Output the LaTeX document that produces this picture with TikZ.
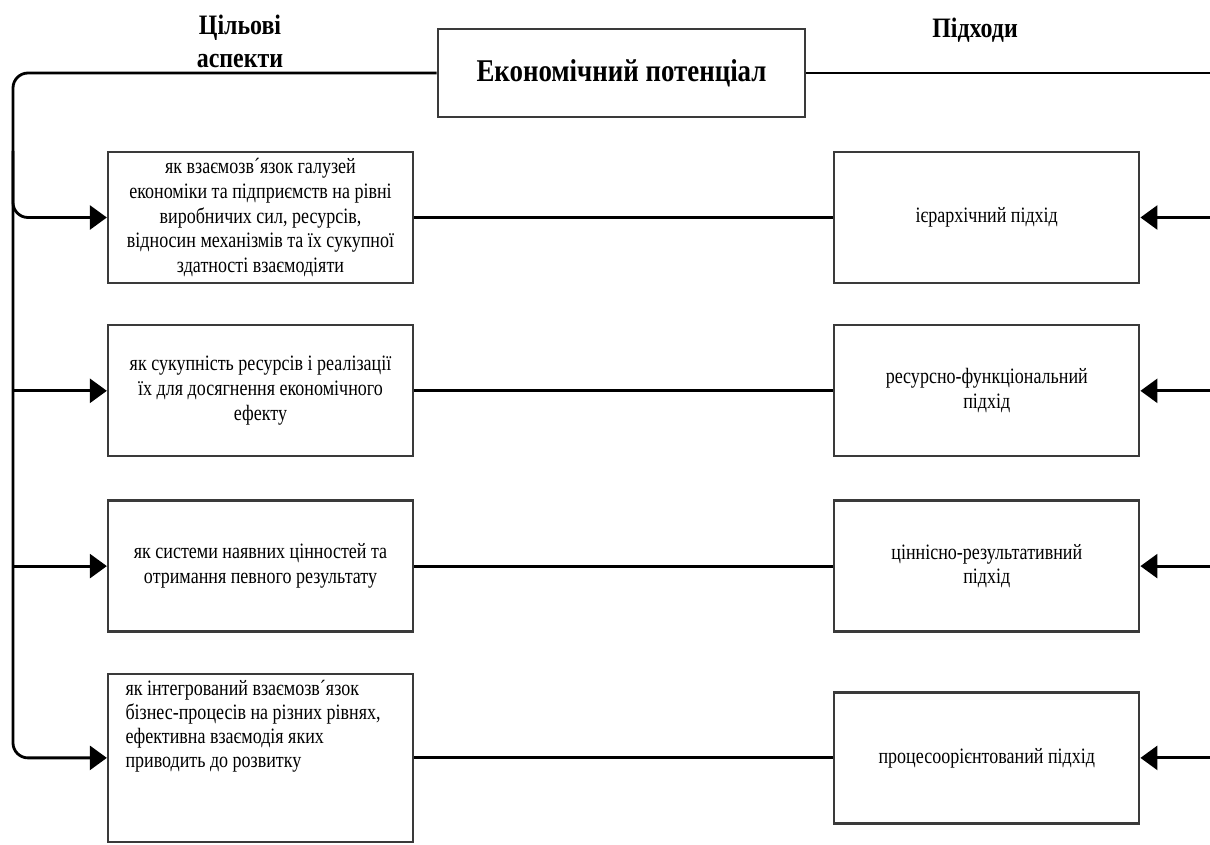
\documentclass[tikz,border=0pt]{standalone}
\usepackage{fontspec}
\setmainfont{Liberation Serif}[FakeStretch=0.85]
\newfontfamily\bodyfont{Liberation Serif}[FakeStretch=0.82]
\usetikzlibrary{arrows.meta,positioning}
\definecolor{BoxEdge}{HTML}{3A3A3A}
\tikzset{
  feed/.style={-{Triangle[length=3.4mm,width=4.8mm]},line width=1.6pt,draw=black},
  link/.style={line width=1.6pt,draw=black},
  titlebox/.style={draw=BoxEdge,line width=1.5pt,fill=white,align=center,font=\fontsize{18}{21}\selectfont\bfseries},
  aspect/.style={draw=BoxEdge,line width=1.3pt,fill=white,align=flush center,text width=58mm,inner xsep=1.5mm,minimum height=26.2mm,font=\bodyfont\fontsize{12.5}{14.2}\selectfont},
  approach/.style={aspect},
  heading/.style={align=center,font=\fontsize{16}{19}\selectfont\bfseries}
}

\begin{document}
\begin{tikzpicture}
  \useasboundingbox (0,0) rectangle (242mm,-168.8mm);
  \node[titlebox,minimum width=73.4mm,minimum height=17.6mm] (potential) at (124.3mm,-14.6mm) {Економічний потенціал};
  \node[heading] (aims) at (48mm,-8.3mm) {Цільові\\аспекти};
  \node[heading] (ways) at (195mm,-6mm) {Підходи};

  \node[aspect] (asp1) at (52.1mm,-43.5mm) {як взаємозв´язок галузей\\економіки та підприємств на рівні\\виробничих сил, ресурсів,\\відносин механізмів та їх сукупної\\здатності взаємодіяти};
  \node[aspect,below=8.0mm of asp1] (asp2) {як сукупність ресурсів і реалізації\\їх для досягнення економічного\\ефекту};
  \node[aspect,below=8.4mm of asp2] (asp3) {як системи наявних цінностей та\\отримання певного результату};
  \node[aspect,align=flush left,text width=54mm,inner xsep=3.5mm,inner ysep=1.2mm,minimum height=33.6mm,below=8.0mm of asp3] (asp4) {\parbox[c][31.2mm][t]{54mm}{\baselineskip=13.8pt як інтегрований взаємозв´язок\\бізнес-процесів на різних рівнях,\\ефективна взаємодія яких\\приводить до розвитку}};

  \node[approach,right=83.8mm of asp1] (app1) {ієрархічний підхід};
  \node[approach,right=83.8mm of asp2] (app2) {ресурсно-функціональний\\підхід};
  \node[approach,right=83.8mm of asp3] (app3) {ціннісно-результативний\\підхід};
  \node[approach,right=83.8mm of asp4] (app4) {процесоорієнтований підхід};

  \coordinate (spine) at (2.6mm,0);
  \coordinate (rim) at (242mm,0);
  % left spine to the aspects
  \draw[feed,rounded corners=3mm] (potential.west) -| (spine |- asp4.west) -- (asp4.west);
  \draw[feed,rounded corners=3mm] (spine |- asp1.north) |- (asp1.west);
  \draw[feed] (spine |- asp2.west) -- (asp2.west);
  \draw[feed] (spine |- asp3.west) -- (asp3.west);
  % aspect -- approach
  \foreach \i in {1,...,4} \draw[link] (asp\i.east) -- (app\i.west);
  % right side
  \draw[link] (potential.east) -- (rim |- potential.east);
  \foreach \i in {1,...,4} \draw[feed] (rim |- app\i.east) -- (app\i.east);
\end{tikzpicture}
\end{document}
